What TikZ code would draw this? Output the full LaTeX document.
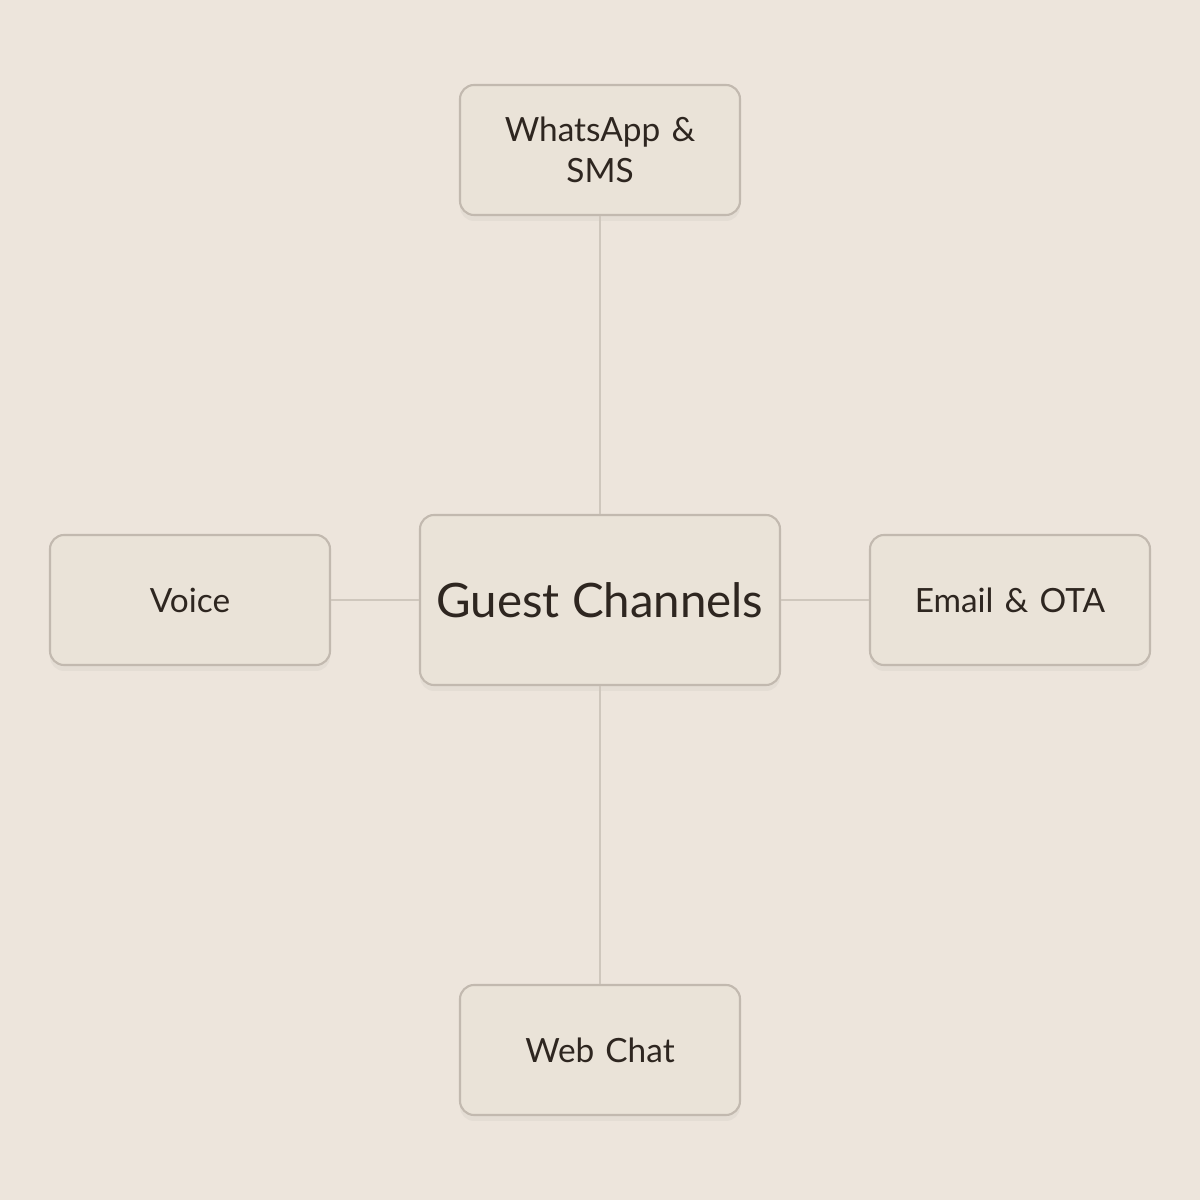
\documentclass[tikz,border=0pt]{standalone}
\usepackage{fontspec}
\setmainfont{Lato}
\usetikzlibrary{positioning, shadows}
\definecolor{bgcol}{HTML}{EDE5DC}
\definecolor{boxfill}{HTML}{EAE3D8}
\definecolor{boxline}{HTML}{C2B9AF}
\definecolor{linkcol}{HTML}{CFC7BD}
\definecolor{inkcol}{HTML}{2E2620}
\tikzset{
  chanbox/.style={rectangle, draw=boxline, fill=boxfill, line width=0.6pt, minimum width=2.8cm, minimum height=1.3cm, text width=2.4cm, align=center, rounded corners=4pt, font=\fontsize{9.5}{11.5}\selectfont, text=inkcol, drop shadow={opacity=0.08, shadow xshift=0pt, shadow yshift=-0.06cm}},
  hubbox/.style={rectangle, draw=boxline, fill=boxfill, line width=0.6pt, minimum width=3.6cm, minimum height=1.7cm, rounded corners=4pt, font=\fontsize{13.5}{16}\selectfont, text=inkcol, drop shadow={opacity=0.08, shadow xshift=0pt, shadow yshift=-0.06cm}},
  link/.style={draw=linkcol, line width=0.6pt},
}
\begin{document}
\begin{tikzpicture}
  \fill[bgcol] (0,0) rectangle (12,12);
  \useasboundingbox (0,0) rectangle (12,12);
  % hub
  \node[hubbox] (hub) at (6,6) {Guest Channels};
  % channels
  \node[chanbox] (whatsapp) at (6,10.5) {WhatsApp \&\\SMS};
  \node[chanbox] (webchat) at (6,1.5) {Web Chat};
  \node[chanbox] (voice) at (1.9,6) {Voice};
  \node[chanbox] (email) at (10.1,6) {Email \& OTA};

  \draw[link] (hub) -- (whatsapp);
  \draw[link] (hub) -- (webchat);
  \draw[link] (hub) -- (voice);
  \draw[link] (hub) -- (email);
\end{tikzpicture}
\end{document}
